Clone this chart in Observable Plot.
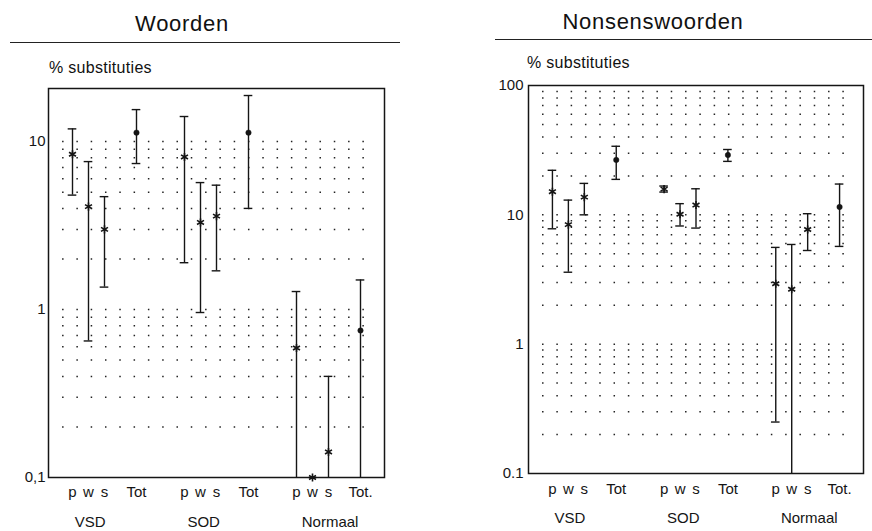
<!DOCTYPE html>
<html><head><meta charset="utf-8">
<script src="https://cdn.jsdelivr.net/npm/d3@7"></script>
<script src="https://cdn.jsdelivr.net/npm/@observablehq/plot@0.6"></script>
<style>
body{margin:0;background:#fff;font-family:"Liberation Sans",Arial,sans-serif;color:#111;}
#root{position:relative;width:872px;height:531px;overflow:hidden;background:#fff;}
.abs{position:absolute;white-space:nowrap;}
.title{font-size:22px;line-height:22px;letter-spacing:0.7px;transform:translateX(-50%);}
.ylab{font-size:16px;line-height:16px;letter-spacing:0.3px;}
.rule{height:0;border-top:1.5px solid #222;}
</style></head><body>
<div id="root">
  <div class="abs title" style="left:182px;top:13px;">Woorden</div>
  <div class="abs rule" style="left:10px;top:42px;width:390px;"></div>
  <div class="abs ylab" style="left:49px;top:60px;">% substituties</div>
  <div class="abs title" style="left:653px;top:11px;">Nonsenswoorden</div>
  <div class="abs rule" style="left:495px;top:39px;width:377px;"></div>
  <div class="abs ylab" style="left:527px;top:55px;">% substituties</div>
</div>
<script>
// ---- data ----
const groups = ["VSD", "SOD", "Normaal"];
const conditions = ["p", "w", "s", "Tot"];
const conditionLabels = ["p", "w", "s", "Tot"];
const lastTotLabel = "Tot.";

// Woorden (% substituties)
const woordenValue = [8.4, 4.1, 3.0, 11.3,  8.1, 3.3, 3.6, 11.3,  0.59, 0.1, 0.142, 0.75];
const woordenLow   = [4.8, 0.65, 1.36, 7.4,  1.9, 0.96, 1.7, 4.0,  0.1, 0.1, 0.1, 0.1];
const woordenHigh  = [11.9, 7.6, 4.7, 15.5,  14.1, 5.7, 5.5, 18.8,  1.28, 0.1, 0.40, 1.5];

// Nonsenswoorden (% substituties)
const nonsValue = [15.1, 8.4, 13.7, 26.6,  15.8, 10.1, 11.9, 29.0,  2.93, 2.66, 7.7, 11.5];
const nonsLow   = [7.8, 3.6, 10.0, 18.8,  15.0, 8.2, 7.9, 25.9,  0.25, 0.1, 5.3, 5.7];
const nonsHigh  = [22.1, 13.0, 17.5, 33.9,  16.7, 12.2, 15.9, 32.0,  5.6, 5.9, 10.2, 17.3];

// y ticks
const woordenYTicks = [0.1, 1, 10];
const woordenYTickLabels = ["0,1", "1", "10"];
const nonsYTicks = [0.1, 1, 10, 100];
const nonsYTickLabels = ["0.1", "1", "10", "100"];

// dotted reference rows
const woordenGrid = [0.2,0.3,0.4,0.5,0.6,0.7,0.8,0.9,1,2,3,4,5,6,7,8,9,10];
const nonsGrid = [0.2,0.3,0.4,0.5,0.6,0.7,0.8,0.9,1,2,3,4,5,6,7,8,9,10,20,30,40,50,60,70,80,90];

// ---- layout helpers ----
const condOffset = [0, 1, 2, 4];
const groupStride = 7;
const posOf = (gi, ci) => gi * groupStride + condOffset[ci];

function buildRows(values, lows, highs) {
  const rows = [];
  groups.forEach((g, gi) => conditions.forEach((c, ci) => {
    const k = gi * conditions.length + ci;
    rows.push({group: g, cond: c, pos: posOf(gi, ci), value: values[k], low: lows[k], high: highs[k]});
  }));
  return rows;
}

const tickPositions = [];
const tickText = {};
groups.forEach((g, gi) => conditions.forEach((c, ci) => {
  const p = posOf(gi, ci);
  tickPositions.push(p);
  tickText[p] = (gi === groups.length - 1 && c === "Tot") ? lastTotLabel : conditionLabels[ci];
}));
const groupCenters = {VSD: posOf(0, 1) + 0.1, SOD: posOf(1, 1) + 0.2, Normaal: posOf(2, 2) + 0.1};
const groupTickPos = groups.map(g => groupCenters[g]);
const groupText = {};
groups.forEach(g => groupText[groupCenters[g]] = g);

const ink = "#151515";

function panel({rows, yDomain, yTicks, yLabels, grid, width, height, margins, yPad, xPad, gPad}) {
  const caps = [];
  rows.forEach(d => {
    if (d.high > yDomain[0]) caps.push({pos: d.pos, v: d.high});
    if (d.low > yDomain[0]) caps.push({pos: d.pos, v: d.low});
  });
  const bars = rows.filter(d => d.high > d.low);
  const yFmt = {};
  yTicks.forEach((t, i) => yFmt[t] = yLabels[i]);
  return Plot.plot({
    width, height,
    marginLeft: margins[0], marginRight: margins[1], marginTop: margins[2], marginBottom: margins[3],
    style: {fontFamily: "'Liberation Sans', Arial, sans-serif", fontSize: "15px", color: ink, background: "transparent"},
    x: {type: "linear", domain: [-1.5, 19.5], label: null},
    y: {type: "log", domain: yDomain, label: null},
    marks: [
      Plot.ruleY(grid, {y: d => d, x1: -0.62, x2: 18.55, stroke: "#222", strokeWidth: 1.5, strokeDasharray: "1.5 12.8"}),
      Plot.ruleX(bars, {x: "pos", y1: "low", y2: "high", stroke: ink, strokeWidth: 1.4}),
      Plot.ruleY(caps, {y: "v", x1: d => d.pos - 0.27, x2: d => d.pos + 0.27, stroke: ink, strokeWidth: 1.4}),
      Plot.dot(rows.filter(d => d.cond !== "Tot"), {x: "pos", y: "value", symbol: "asterisk", r: 3.8, stroke: ink, strokeWidth: 1.6}),
      Plot.dot(rows.filter(d => d.cond === "Tot"), {x: "pos", y: "value", r: 2.7, fill: ink, stroke: ink, strokeWidth: 0.5}),
      Plot.frame({stroke: ink, strokeWidth: 1.5}),
      Plot.axisY({ticks: yTicks, tickFormat: t => yFmt[t], tickSize: 0, tickPadding: yPad, label: null}),
      Plot.axisX({ticks: tickPositions, tickFormat: t => tickText[t], tickSize: 0, tickPadding: xPad, label: null}),
      Plot.axisX({ticks: groupTickPos, tickFormat: t => groupText[t], tickSize: 0, tickPadding: gPad, label: null})
    ]
  });
}

const root = document.getElementById("root");

const left = panel({
  rows: buildRows(woordenValue, woordenLow, woordenHigh),
  yDomain: [0.1, 20.7], yTicks: woordenYTicks, yLabels: woordenYTickLabels, grid: woordenGrid,
  width: 440, height: 481, margins: [48, 56, 38, 54], yPad: 3, xPad: 9, gPad: 39
});
left.style.position = "absolute"; left.style.left = "0px"; left.style.top = "50px";
root.appendChild(left);

const right = panel({
  rows: buildRows(nonsValue, nonsLow, nonsHigh),
  yDomain: [0.1, 100], yTicks: nonsYTicks, yLabels: nonsYTickLabels, grid: nonsGrid,
  width: 432, height: 481, margins: [88, 9, 35, 58], yPad: 5, xPad: 10, gPad: 39
});
right.style.position = "absolute"; right.style.left = "440px"; right.style.top = "50px";
root.appendChild(right);
</script>
</body></html>
